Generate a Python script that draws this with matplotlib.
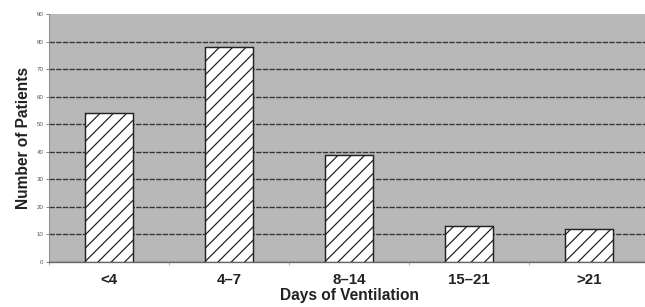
import matplotlib
matplotlib.use("Agg")
import matplotlib.pyplot as plt
import numpy as np

categories = ["<4", "4\u20137", "8\u201314", "15\u201321", ">21"]
patients = [54, 78, 39, 13, 12]
yticks = [0, 10, 20, 30, 40, 50, 60, 70, 80, 90]

DPI = 80
W, H = 645, 307
plt.rcParams['font.family'] = ['Liberation Sans', 'DejaVu Sans']
plt.rcParams['hatch.linewidth'] = 1.1
plt.rcParams['hatch.color'] = '#222222'

fig = plt.figure(figsize=(W / DPI, H / DPI), dpi=DPI)
fig.patch.set_facecolor('white')
ax = fig.add_axes([49 / W, 1 - 262 / H, 600 / W, 248 / H])
ax.set_facecolor('#b8b8b8')

x = np.arange(len(categories))
ax.bar(x, patients, width=0.4, color='white', edgecolor='#222222',
       linewidth=1.3, hatch='//', zorder=3)

ax.set_xlim(-0.5, 4.5)
ax.set_ylim(0, 90)
ax.set_yticks(yticks)
ax.set_yticklabels([str(v) for v in yticks], fontsize=5.5, color='#555555')
ax.yaxis.grid(True, color='#333333', linestyle=(0, (4, 1)), linewidth=1.2, zorder=1)
ax.set_axisbelow(True)
gl = ax.yaxis.get_gridlines()
gl[-1].set_visible(False)

ax.set_xticks(x)
ax.set_xticklabels(categories, fontsize=13.5, fontweight='bold', color='#222222')
ax.set_xticks(np.arange(-0.5, 5, 1), minor=True)
ax.tick_params(axis='x', which='major', length=0, pad=10)
ax.tick_params(axis='x', which='minor', length=3, color='#888888')
ax.tick_params(axis='y', length=3, color='#777777', pad=2)

for s in ['top', 'right']:
    ax.spines[s].set_visible(False)
ax.spines['left'].set_color('#888888')
ax.spines['bottom'].set_color('#666666')
ax.spines['bottom'].set_linewidth(1.2)

ax.set_xlabel("Days of Ventilation", fontsize=14, fontweight='bold', color='#222222', labelpad=1)
ax.set_ylabel("Number of Patients", fontsize=14, fontweight='bold', color='#222222', labelpad=5)

fig.savefig("out.png", dpi=DPI)
